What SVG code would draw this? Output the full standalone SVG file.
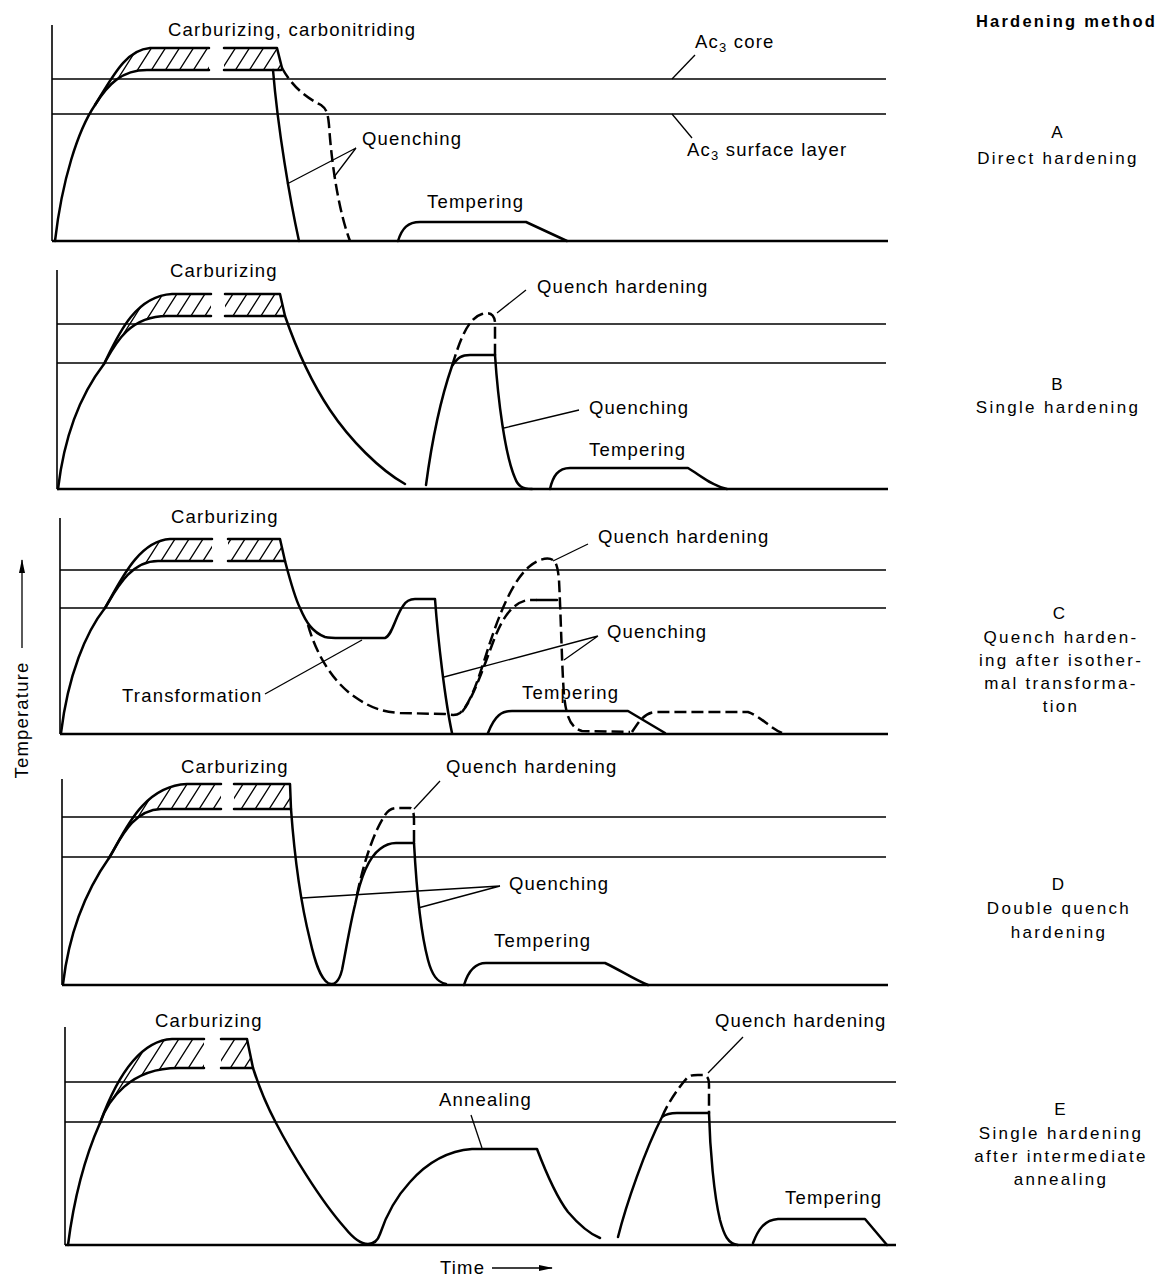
<svg xmlns="http://www.w3.org/2000/svg" width="1158" height="1278" viewBox="0 0 1158 1278">
<defs>
<style>
.c{fill:none;stroke:#000;stroke-width:2.5;stroke-linecap:round;stroke-linejoin:round}
.d{fill:none;stroke:#000;stroke-width:2.5;stroke-dasharray:12 5;stroke-linejoin:round}
.ax{fill:none;stroke:#000;stroke-width:1.6}
.bl{fill:none;stroke:#000;stroke-width:2.4}
.rf{fill:none;stroke:#000;stroke-width:1.6}
.ld{fill:none;stroke:#000;stroke-width:1.3}
.t{font-family:"Liberation Sans",Arial,Helvetica,sans-serif;font-size:18.5px;letter-spacing:1.2px;fill:#000}
.r{font-family:"Liberation Sans",Arial,Helvetica,sans-serif;font-size:17px;letter-spacing:2.3px;fill:#000;text-anchor:middle}
.h{font-family:"Liberation Sans",Arial,Helvetica,sans-serif;font-size:16.5px;letter-spacing:2.2px;font-weight:bold;fill:#000}
.sub{font-size:13px}
.hf{fill:url(#hatch);stroke:none}
</style>
<pattern id="hatch" patternUnits="userSpaceOnUse" width="14" height="22">
<path d="M0,22 L14,0 M-7,11 L7,-11 M7,33 L21,11" stroke="#000" stroke-width="1.3" fill="none"/>
</pattern>
<marker id="ah" viewBox="0 0 14 8" refX="13" refY="4" markerWidth="14" markerHeight="8" markerUnits="userSpaceOnUse" orient="auto">
<path d="M0,1 L14,4 L0,7 Z" fill="#000"/>
</marker>
</defs>
<rect width="1158" height="1278" fill="#fff"/>

<!-- Right column: hardening methods -->
<g id="legend">
<text class="h" x="976" y="27">Hardening method</text>
<text class="r" x="1058" y="138">A</text>
<text class="r" x="1058" y="164">Direct hardening</text>
<text class="r" x="1058" y="390">B</text>
<text class="r" x="1058" y="413">Single hardening</text>
<text class="r" x="1060" y="619">C</text>
<text class="r" x="1061" y="643">Quench harden-</text>
<text class="r" x="1061" y="666">ing after isother-</text>
<text class="r" x="1061" y="689">mal transforma-</text>
<text class="r" x="1061" y="712">tion</text>
<text class="r" x="1059" y="890">D</text>
<text class="r" x="1059" y="914">Double quench</text>
<text class="r" x="1059" y="938">hardening</text>
<text class="r" x="1061" y="1115">E</text>
<text class="r" x="1061" y="1139">Single hardening</text>
<text class="r" x="1061" y="1162">after intermediate</text>
<text class="r" x="1061" y="1185">annealing</text>
</g>

<!-- Axis labels -->
<g id="axis-labels">
<text class="t" x="28" y="720" text-anchor="middle" transform="rotate(-90 28 720)">Temperature</text>
<line class="ld" x1="22" y1="648" x2="22" y2="560" marker-end="url(#ah)"/>
<text class="t" x="440" y="1274">Time</text>
<line class="ld" x1="492" y1="1268" x2="552" y2="1268" marker-end="url(#ah)"/>
</g>

<!-- Panel A -->
<g id="panel-A">
<path class="ax" d="M52,25 L52,241"/>
<path class="bl" d="M52,241 L888,241"/>
<path class="rf" d="M52,79 L886,79 M52,114 L886,114"/>
<path class="hf" d="M95,105 C112,78 125,50 150,48 L209,48 L209,70 L147,70 C122,70 108,84 95,105 Z M224,48 L277,48 L282,70 L224,70 Z"/>
<path class="c" d="M55,241 C62,180 78,130 95,105 C112,78 125,50 150,48 L209,48"/>
<path class="c" d="M95,105 C108,84 122,70 147,70 L209,70"/>
<path class="c" d="M224,48 L277,48 L282,68 M224,70 L281,70"/>
<path class="c" d="M273,70 C278,130 290,200 299,241"/>
<path class="d" d="M282,68 C292,86 305,97 321,105 C327,109 328,115 329,125 C332,170 340,215 350,241"/>
<path class="c" d="M398,241 C402,228 408,222 420,222 L526,222 L567,241"/>
<text class="t" x="168" y="36">Carburizing, carbonitriding</text>
<text class="t" x="695" y="48">Ac<tspan class="sub" dy="4">3</tspan><tspan dy="-4"> core</tspan></text>
<text class="t" x="687" y="156">Ac<tspan class="sub" dy="4">3</tspan><tspan dy="-4"> surface layer</tspan></text>
<text class="t" x="362" y="145">Quenching</text>
<text class="t" x="427" y="208">Tempering</text>
</g>

<!-- Panel B -->
<g id="panel-B">
<path class="ax" d="M57,270 L57,489"/>
<path class="bl" d="M57,489 L888,489"/>
<path class="rf" d="M57,324 L886,324 M57,363 L886,363"/>
<path class="hf" d="M104,364 C118,335 135,296 172,294 L211,294 L211,316 L167,316 C128,316 114,346 104,364 Z M225,294 L280,294 L285,316 L225,316 Z"/>
<path class="c" d="M58,489 C65,430 84,390 104,364 C118,335 135,296 172,294 L211,294"/>
<path class="c" d="M104,364 C114,346 128,316 167,316 L211,316"/>
<path class="c" d="M225,294 L280,294 L285,316 C295,345 310,380 330,410 C350,440 380,470 405,484 M225,316 L285,316"/>
<path class="c" d="M426,485 C432,440 442,395 452,366 C458,357 462,355 470,355 L495,355"/>
<path class="d" d="M452,366 C460,340 468,318 482,314 C490,312 494,314 495,322 L495,355"/>
<path class="c" d="M495,355 C498,400 505,455 515,478 C518,486 522,489 532,489"/>
<path class="c" d="M550,489 C553,476 558,468 570,468 L688,468 C700,475 712,486 727,489"/>
<text class="t" x="170" y="277">Carburizing</text>
<text class="t" x="537" y="293">Quench hardening</text>
<text class="t" x="589" y="414">Quenching</text>
<text class="t" x="589" y="456">Tempering</text>
</g>

<!-- Panel C -->
<g id="panel-C">
<path class="ax" d="M60,518 L60,734"/>
<path class="bl" d="M60,734 L888,734"/>
<path class="rf" d="M60,570 L886,570 M60,608 L886,608"/>
<path class="hf" d="M105,608 C120,582 138,541 170,539 L212,539 L212,561 L158,561 C130,561 116,590 105,608 Z M228,539 L280,539 L285,561 L228,561 Z"/>
<path class="c" d="M61,733 C68,675 86,632 105,608 C120,582 138,541 170,539 L212,539"/>
<path class="c" d="M105,608 C116,590 130,561 158,561 L212,561"/>
<path class="c" d="M228,539 L280,539 L285,561 M228,561 L285,561"/>
<path class="c" d="M285,561 C290,580 295,598 300,608 C306,622 312,632 325,637 C330,638 335,638 340,638 L385,638 C392,636 396,615 403,606 C406,601 409,599 415,599 L435,599 C438,640 445,700 452,733"/>
<path class="d" d="M308,625 C315,650 330,680 355,697 C368,706 380,712 400,713 L445,714 C452,715 456,716 460,713 C470,705 478,680 487,652 C497,620 512,580 530,566 C538,559 548,557 553,560 C557,563 558,570 559,580 C561,620 562,670 564,695 C566,715 570,728 582,731 L630,732"/>
<path class="d" d="M462,712 C472,700 482,672 492,645 C500,623 510,603 528,600 L537,600"/>
<path class="c" d="M537,600 L557,600"/>
<path class="c" d="M488,733 C495,715 502,711 512,711 L628,711 L665,733"/>
<path class="d" d="M632,732 C640,720 645,712 657,712 L748,712 C760,716 770,728 782,733"/>
<text class="t" x="171" y="523">Carburizing</text>
<text class="t" x="598" y="543">Quench hardening</text>
<text class="t" x="607" y="638">Quenching</text>
<text class="t" x="122" y="702">Transformation</text>
<text class="t" x="522" y="699">Tempering</text>
</g>

<!-- Panel D -->
<g id="panel-D">
<path class="ax" d="M62,779 L62,985"/>
<path class="bl" d="M62,985 L888,985"/>
<path class="rf" d="M62,817 L886,817 M62,857 L886,857"/>
<path class="hf" d="M109,858 C122,838 140,786 187,784 L221,784 L221,809 L161,809 C132,809 120,840 109,858 Z M234,784 L290,784 L291,809 L234,809 Z"/>
<path class="c" d="M63,984 C70,925 90,885 109,858 C122,838 140,786 187,784 L221,784"/>
<path class="c" d="M109,858 C120,840 132,810 161,809 L221,809"/>
<path class="c" d="M234,784 L290,784 L291,809 M234,809 L291,809"/>
<path class="c" d="M291,809 C294,850 300,900 310,940 C315,962 320,978 328,983 C334,986 339,982 342,970 C346,950 350,925 355,905 C360,880 368,858 380,849 C385,845 390,843 396,843 L414,843"/>
<path class="d" d="M357,895 C364,860 375,830 385,815 C389,809 393,808 398,808 L410,808 C413,809 414,813 414,820 L414,843"/>
<path class="c" d="M414,843 C416,880 420,930 428,960 C432,975 437,982 446,984"/>
<path class="c" d="M464,985 C468,972 474,963 486,963 L605,963 C620,970 635,980 648,985"/>
<text class="t" x="181" y="773">Carburizing</text>
<text class="t" x="446" y="773">Quench hardening</text>
<text class="t" x="509" y="890">Quenching</text>
<text class="t" x="494" y="947">Tempering</text>
</g>

<!-- Panel E -->
<g id="panel-E">
<path class="ax" d="M65,1027 L65,1245"/>
<path class="bl" d="M65,1245 L896,1245"/>
<path class="rf" d="M65,1082 L896,1082 M65,1122 L896,1122"/>
<path class="hf" d="M100,1123 C112,1090 135,1041 172,1039 L204,1039 L204,1068 L178,1068 C130,1068 108,1100 100,1123 Z M221,1039 L247,1039 L253,1068 L221,1068 Z"/>
<path class="c" d="M68,1245 C75,1190 88,1150 100,1123 C112,1090 135,1041 172,1039 L204,1039"/>
<path class="c" d="M100,1123 C108,1100 130,1068 178,1068 L204,1068"/>
<path class="c" d="M221,1039 L247,1039 L253,1068 M221,1068 L253,1068"/>
<path class="c" d="M253,1068 C260,1090 268,1108 276,1123 C290,1150 320,1200 345,1228 C353,1238 360,1244 368,1244 C374,1244 378,1240 380,1234 C388,1210 398,1195 410,1182 C425,1165 445,1151 472,1149 L537,1149 C545,1170 555,1195 568,1212 C580,1226 590,1234 600,1238"/>
<path class="c" d="M618,1237 C626,1205 645,1150 662,1117 C666,1114 670,1113 677,1113 L709,1113"/>
<path class="d" d="M662,1117 C668,1103 678,1088 687,1078 C690,1075 693,1075 698,1075 L704,1075 C708,1076 709,1080 709,1085 L709,1113"/>
<path class="c" d="M709,1113 C710,1150 714,1195 720,1220 C724,1235 728,1244 738,1245"/>
<path class="c" d="M753,1243 C758,1230 764,1220 778,1219 L865,1219 L887,1245"/>
<text class="t" x="155" y="1027">Carburizing</text>
<text class="t" x="439" y="1106">Annealing</text>
<text class="t" x="715" y="1027">Quench hardening</text>
<text class="t" x="785" y="1204">Tempering</text>
</g>

<!-- Leader lines -->
<g id="connectors">
<path class="ld" d="M695,55 L672,79"/>
<path class="ld" d="M672,114 L692,138"/>
<path class="ld" d="M356,148 L287,184 M356,148 L334,177"/>
<path class="ld" d="M526,290 L497,313"/>
<path class="ld" d="M579,410 L504,428"/>
<path class="ld" d="M588,544 L553,561"/>
<path class="ld" d="M598,636 L444,677 M598,636 L564,660"/>
<path class="ld" d="M265,694 L362,640"/>
<path class="ld" d="M440,781 L414,809"/>
<path class="ld" d="M500,886 L302,898 M500,886 L418,908"/>
<path class="ld" d="M471,1115 L482,1148"/>
<path class="ld" d="M743,1037 L708,1073"/>
</g>
</svg>
